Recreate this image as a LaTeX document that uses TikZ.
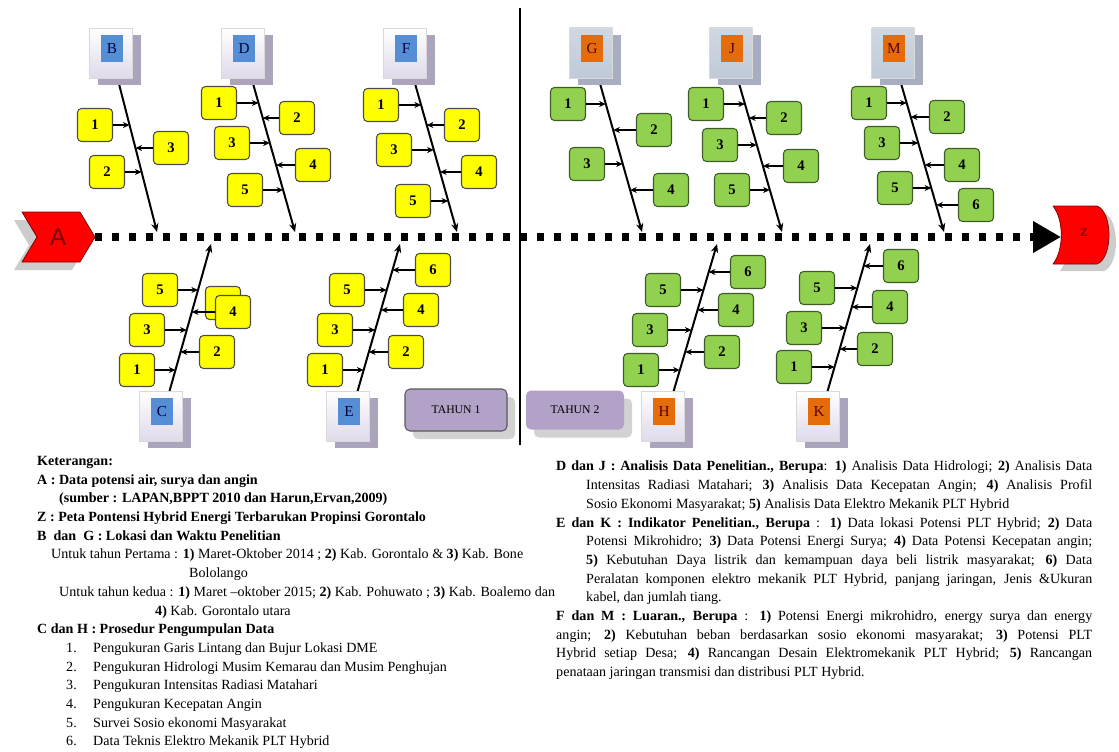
\documentclass[tikz,border=0pt]{standalone}
\usepackage{fontspec}
\setmainfont{Liberation Serif}
\newfontfamily\sansA{Liberation Sans}
\usetikzlibrary{arrows.meta,shadows}

\definecolor{ylw}{RGB}{255,255,0}
\definecolor{grn}{RGB}{146,208,80}
\definecolor{grnd}{RGB}{62,92,40}
\definecolor{blu}{RGB}{85,142,213}
\definecolor{org}{RGB}{228,108,10}
\definecolor{lav}{RGB}{179,162,199}
\definecolor{frmA}{RGB}{224,218,234}
\definecolor{frmB}{RGB}{192,202,216}
\definecolor{shdA}{RGB}{172,163,188}
\definecolor{shdB}{RGB}{168,174,192}
\definecolor{redd}{RGB}{120,0,0}

\begin{document}
\begin{tikzpicture}[x=.3mm,y=-.3mm,line join=round,
  bone/.style={line width=1.7pt,-{Stealth[length=2.6mm,width=2.2mm]}},
  twig/.style={line width=1.3pt,-{Stealth[length=2mm,width=1.8mm]}},
  numbox/.style={line width=.9pt,rounded corners=1.2mm,minimum width=10.5mm,minimum height=9.9mm,inner sep=0pt,font=\bfseries\fontsize{12.5}{12.5}\selectfont},
  ybox/.style={numbox,fill=ylw,draw=black!70},
  gbox/.style={numbox,fill=grn,draw=grnd},
  hdr/.style={minimum width=12.9mm,minimum height=15mm,inner sep=0pt,draw=gray!30,line width=.4pt},
  hdrA/.style={hdr,top color=white,bottom color=frmA,drop shadow={shadow xshift=2.5mm,shadow yshift=-2.2mm,fill=shdA,opacity=1}},
  hdrB/.style={hdr,top color=frmB!75,bottom color=frmB,drop shadow={shadow xshift=2.5mm,shadow yshift=-2.2mm,fill=shdB,opacity=1}},
  tag/.style={minimum width=6.5mm,minimum height=8.2mm,inner sep=0pt,font=\fontsize{13}{13}\selectfont},
  tahun/.style={fill=lav,rounded corners=1.5mm,minimum width=30.6mm,minimum height=12.6mm,font=\fontsize{10}{10}\selectfont,text=black,drop shadow={shadow xshift=2.4mm,shadow yshift=-2.4mm,fill=gray!35,opacity=1}},
  legend/.style={anchor=north west,inner sep=0pt,font=\fontsize{12}{15.96}\selectfont}]
\useasboundingbox (0,0) rectangle (1119,751);

% divider between the two years
\draw[line width=1.6pt] (520,8) -- (520,445);

% head A and tail Z
\fill[gray!40,shift={(-8,8)}] (22,212) -- (80,212) -- (95,237) -- (80,262) -- (22,262) -- (37,237) -- cycle;
\filldraw[fill=red,draw=redd,line width=.6pt] (22,212) -- (80,212) -- (95,237) -- (80,262) -- (22,262) -- (37,237) -- cycle;
\node[text=redd,font=\sansA\fontsize{21}{21}\selectfont] (A) at (58,237) {A};
\fill[gray!40,shift={(7,7)}] (1053,206) -- (1097,206) .. controls (1113,212) and (1113,258) .. (1097,264) -- (1053,264) .. controls (1064,250) and (1064,220) .. (1053,206) -- cycle;
\filldraw[fill=red,draw=redd,line width=.6pt] (1053,206) -- (1097,206) .. controls (1113,212) and (1113,258) .. (1097,264) -- (1053,264) .. controls (1064,250) and (1064,220) .. (1053,206) -- cycle;
\node[text=redd,font=\bfseries\fontsize{10}{10}\selectfont] (Z) at (1084,233) {Z};
\coordinate (Atip) at (95,237); \coordinate (Zin) at (1061,237);
\draw[line width=2.3mm,dash pattern=on 2.2mm off 2.9mm,-{Triangle[length=8.4mm,width=9mm]}] (Atip) -- (Zin);

% bones
\foreach \bn/\xa/\ya/\xb/\yb in {B/118/80/157/232,D/252/80/295/232,F/414/80/457/232,G/599/80/642/232,J/738/80/782/232,M/900/80/944/232}{
  \coordinate (\bn t) at (\xa,\ya); \coordinate (\bn b) at (\xb,\yb);
  \draw[bone] (\bn t) -- (\bn b);}
\foreach \bn/\xa/\ya/\xb/\yb in {C/211/244/167/400,E/400/244/355/400,H/717/244/671/400,K/870/244/825/400}{
  \coordinate (\bn t) at (\xa,\ya); \coordinate (\bn b) at (\xb,\yb);
  \draw[bone] (\bn b) -- (\bn t);}

% heads of the bones
\foreach \bn/\x/\y in {B/111/53,D/243/53,F/405/53,C/161/416,E/348/416}{
  \node[hdrA] (f\bn) at (\x,\y) {};
  \node[tag,fill=blu,text=blue!25!black] (\bn) at ([xshift=.3mm,yshift=1.3mm]f\bn.center) {\bn};}
\foreach \bn/\x/\y in {G/591/53,J/731/53,M/893/53}{
  \node[hdrB] (f\bn) at (\x,\y) {};
  \node[tag,fill=org,text=red!35!black] (\bn) at ([xshift=.3mm,yshift=1.3mm]f\bn.center) {\bn};}
\foreach \bn/\x/\y in {H/663/416,K/818/416}{
  \node[hdrA] (f\bn) at (\x,\y) {};
  \node[tag,fill=org,text=red!35!black] (\bn) at ([xshift=.3mm,yshift=1.3mm]f\bn.center) {\bn};}

% causes
\node[ybox] (C4g) at (223,303) {};
\foreach \bn/\i/\x/\y/\s in {B/1/95/125/east,B/3/171/148/west,B/2/107/172/east,
  D/1/219/103/east,D/2/297/118/west,D/3/232/143/east,D/4/313/165/west,D/5/245/190/east,
  F/1/381/105/east,F/2/462/125/west,F/3/394/150/east,F/4/479/172/west,F/5/413/201/east,
  C/5/160/290/east,C/4/233/312/west,C/3/147/330/east,C/2/217/352/west,C/1/137/370/east,
  E/6/433/270/west,E/5/347/290/east,E/4/421/310/west,E/3/335/330/east,E/2/406/352/west,E/1/325/370/east}{
  \node[ybox] (\bn\i) at (\x,\y) {\i};
  \draw[twig] (\bn\i.\s) -- (intersection of \bn t--\bn b and \bn\i.east--\bn\i.west);}
\foreach \bn/\i/\x/\y/\s in {G/1/568/104/east,G/2/654/130/west,G/3/587/164/east,G/4/671/190/west,
  J/1/706/104/east,J/2/784/118/west,J/3/720/145/east,J/4/801/166/west,J/5/732/190/east,
  M/1/869/103/east,M/2/947/117/west,M/3/882/143/east,M/4/962/165/west,M/5/895/188/east,M/6/976/205/west,
  H/6/748/272/west,H/5/663/290/east,H/4/736/310/west,H/3/650/330/east,H/2/722/352/west,H/1/641/370/east,
  K/6/901/266/west,K/5/817/288/east,K/4/890/307/west,K/3/804/328/east,K/2/875/349/west,K/1/794/367/east}{
  \node[gbox] (\bn\i) at (\x,\y) {\i};
  \draw[twig] (\bn\i.\s) -- (intersection of \bn t--\bn b and \bn\i.east--\bn\i.west);}

% years
\node[tahun,draw=black!65,line width=.9pt] (T1) at (456,410) {TAHUN 1};
\node[tahun,minimum width=29.4mm,minimum height=11.7mm] (T2) at (575,410) {TAHUN 2};

% legend
\node[legend,align=left] (legL) at (37,456) {%
\textbf{Keterangan:}\\
\textbf{A : Data potensi air, surya dan angin}\\
\hspace*{6.6mm}\textbf{(sumber : LAPAN,BPPT 2010 dan Harun,Ervan,2009)}\\
\textbf{Z : Peta Pontensi Hybrid Energi Terbarukan Propinsi Gorontalo}\\
\textbf{B\ \ dan\ \ G : Lokasi dan Waktu Penelitian}\\
\hspace*{4.2mm}Untuk tahun Pertama : \textbf{1)} Maret-Oktober 2014 ; \textbf{2)} Kab. Gorontalo \& \textbf{3)} Kab. Bone\\
\hspace*{45.6mm}Bololango\\
\hspace*{6.6mm}Untuk tahun kedua : \textbf{1)} Maret –oktober 2015; \textbf{2)} Kab. Pohuwato ; \textbf{3)} Kab. Boalemo dan\\
\hspace*{35.4mm}\textbf{4)} Kab. Gorontalo utara\\
\textbf{C dan H : Prosedur Pengumpulan Data}\\
\hspace*{8.7mm}\makebox[8.1mm][l]{1.}Pengukuran Garis Lintang dan Bujur Lokasi DME\\
\hspace*{8.7mm}\makebox[8.1mm][l]{2.}Pengukuran Hidrologi Musim Kemarau dan Musim Penghujan\\
\hspace*{8.7mm}\makebox[8.1mm][l]{3.}Pengukuran Intensitas Radiasi Matahari\\
\hspace*{8.7mm}\makebox[8.1mm][l]{4.}Pengukuran Kecepatan Angin\\
\hspace*{8.7mm}\makebox[8.1mm][l]{5.}Survei Sosio ekonomi Masyarakat\\
\hspace*{8.7mm}\makebox[8.1mm][l]{6.}Data Teknis Elektro Mekanik PLT Hybrid};
\node[legend,text width=160.8mm,align=justify] (legR) at (556,461) {%
\hangindent=9mm\hangafter=1
\textbf{D dan J : Analisis Data Penelitian., Berupa}: \textbf{1)} Analisis Data Hidrologi; \textbf{2)} Analisis Data\linebreak
Intensitas Radiasi Matahari; \textbf{3)} Analisis Data Kecepatan Angin; \textbf{4)} Analisis Profil\linebreak
Sosio Ekonomi Masyarakat; \textbf{5)} Analisis Data Elektro Mekanik PLT Hybrid\par
\hangindent=9mm\hangafter=1
\textbf{E dan K : Indikator Penelitian., Berupa} : \textbf{1)} Data lokasi Potensi PLT Hybrid; \textbf{2)} Data\linebreak
Potensi Mikrohidro; \textbf{3)} Data Potensi Energi Surya; \textbf{4)} Data Potensi Kecepatan angin;\linebreak
\textbf{5)} Kebutuhan Daya listrik dan kemampuan daya beli listrik masyarakat; \textbf{6)} Data\linebreak
Peralatan komponen elektro mekanik PLT Hybrid, panjang jaringan, Jenis \&Ukuran\linebreak
kabel, dan jumlah tiang.\par
\hangindent=9mm\hangafter=1
\textbf{F dan M : Luaran., Berupa} : \textbf{1)} Potensi Energi mikrohidro, energy surya dan energy\linebreak
angin; \textbf{2)} Kebutuhan beban berdasarkan sosio ekonomi masyarakat; \textbf{3)} Potensi PLT\linebreak
Hybrid setiap Desa; \textbf{4)} Rancangan Desain Elektromekanik PLT Hybrid; \textbf{5)} Rancangan\linebreak
penataan jaringan transmisi dan distribusi PLT Hybrid.};
\end{tikzpicture}
\end{document}
